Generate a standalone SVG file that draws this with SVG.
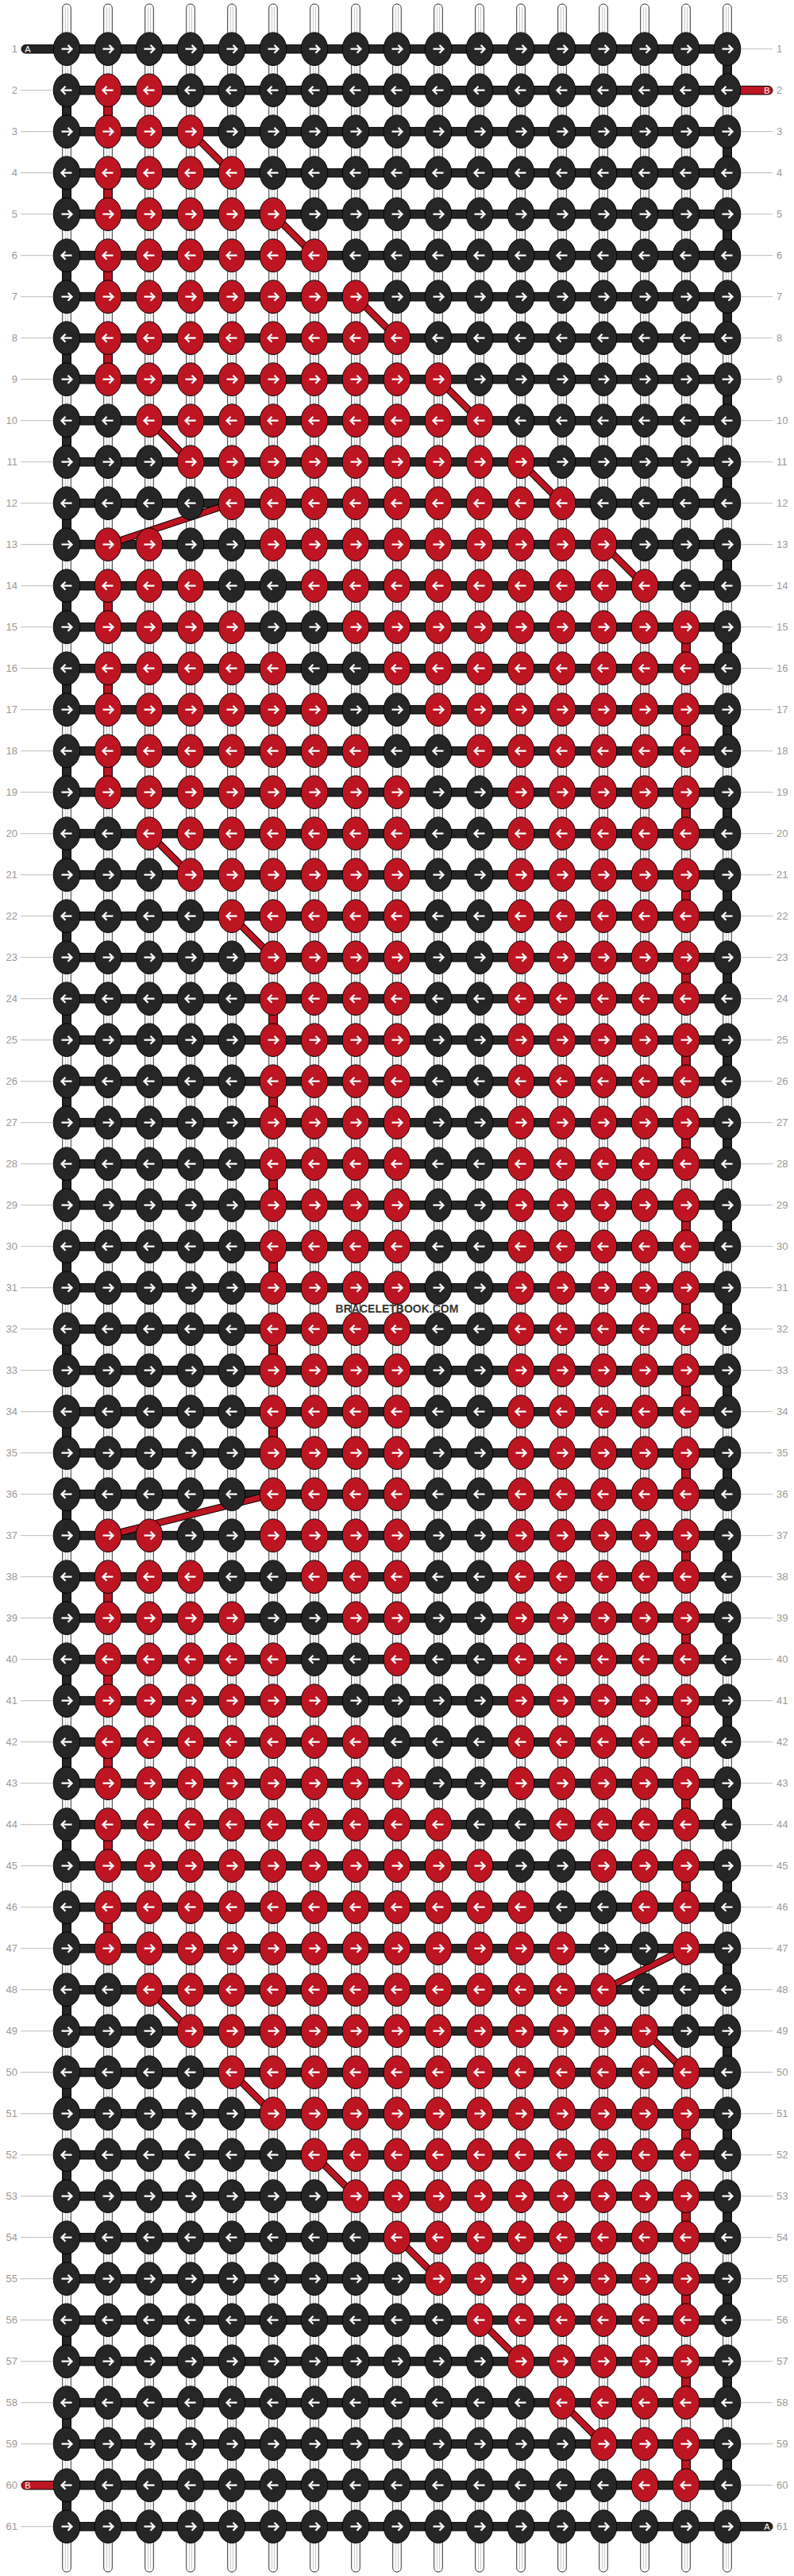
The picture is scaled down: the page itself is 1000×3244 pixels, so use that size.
<svg xmlns="http://www.w3.org/2000/svg" xmlns:xlink="http://www.w3.org/1999/xlink" width="1000" height="3244" viewBox="0 0 1000 3244">
<style>
.k{fill:#262626;stroke:#000;stroke-width:1}
.r{fill:#bd1522;stroke:#000;stroke-width:1}
.ar{fill:none;stroke:#fff;stroke-width:2.3}
.bar{fill:#262626;stroke:#000;stroke-width:1}
.tr{fill:#bd1522;stroke:#000;stroke-width:1}
.warp{fill:#fff;stroke:#333;stroke-width:1}
.wl{stroke:#c8c8c8;stroke-width:1}
.vk{fill:#262626;stroke:#000;stroke-width:1}
.vr{fill:#bd1522;stroke:#000;stroke-width:1}
.dgo{fill:none;stroke:#000;stroke-width:9}
.dgi{fill:none;stroke:#bd1522;stroke-width:7}
.lb{font-family:"Liberation Sans",Arial,sans-serif;font-size:13px;fill:#999}
.gl{stroke:#bbb;stroke-width:1}
.tl{font-family:"Liberation Sans",Arial,sans-serif;font-size:11px;fill:#fff;text-anchor:middle}
.wm{font-family:"Liberation Sans",Arial,sans-serif;font-size:14px;font-weight:bold;fill:#333;text-anchor:middle}
</style>
<defs>
<ellipse id="e" rx="16.8" ry="20.8"/>
<path id="aR" class="ar" d="M-6.5,0H5.5M1.5,-5L6.5,0L1.5,5"/>
<path id="aL" class="ar" d="M6.5,0H-5.5M-1.5,-5L-6.5,0L-1.5,5"/>
<g id="KR"><use href="#e" class="k"/><use href="#aR"/></g>
<g id="RR"><use href="#e" class="r"/><use href="#aR"/></g>
<g id="KL"><use href="#e" class="k"/><use href="#aL"/></g>
<g id="RL"><use href="#e" class="r"/><use href="#aL"/></g>
<rect id="vs" x="-5.3" y="0" width="10.6" height="52"/>
<rect id="bar" class="bar" x="84" y="-5.3" width="832" height="10.6"/>
<g id="wp"><rect class="warp" x="-5.3" y="5" width="10.6" height="3234" rx="5.3"/><path class="wl" d="M-1.5,9V3235M1.5,9V3235"/></g>
</defs>
<rect width="1000" height="3244" fill="#fff"/>
<g id="warps">
<use href="#wp" x="84"/><use href="#wp" x="136"/><use href="#wp" x="188"/><use href="#wp" x="240"/><use href="#wp" x="292"/><use href="#wp" x="344"/><use href="#wp" x="396"/><use href="#wp" x="448"/><use href="#wp" x="500"/><use href="#wp" x="552"/><use href="#wp" x="604"/><use href="#wp" x="656"/><use href="#wp" x="708"/><use href="#wp" x="760"/><use href="#wp" x="812"/><use href="#wp" x="864"/><use href="#wp" x="916"/>
</g>
<g id="connectors">
<g id="bars">
<use href="#bar" y="61.7"/><use href="#bar" y="113.7"/><use href="#bar" y="165.7"/><use href="#bar" y="217.7"/><use href="#bar" y="269.7"/><use href="#bar" y="321.7"/><use href="#bar" y="373.7"/><use href="#bar" y="425.7"/><use href="#bar" y="477.7"/><use href="#bar" y="529.7"/><use href="#bar" y="581.7"/><use href="#bar" y="633.7"/><use href="#bar" y="685.7"/><use href="#bar" y="737.7"/><use href="#bar" y="789.7"/><use href="#bar" y="841.7"/><use href="#bar" y="893.7"/><use href="#bar" y="945.7"/><use href="#bar" y="997.7"/><use href="#bar" y="1049.7"/><use href="#bar" y="1101.7"/><use href="#bar" y="1153.7"/><use href="#bar" y="1205.7"/><use href="#bar" y="1257.7"/><use href="#bar" y="1309.7"/><use href="#bar" y="1361.7"/><use href="#bar" y="1413.7"/><use href="#bar" y="1465.7"/><use href="#bar" y="1517.7"/><use href="#bar" y="1569.7"/><use href="#bar" y="1621.7"/><use href="#bar" y="1673.7"/><use href="#bar" y="1725.7"/><use href="#bar" y="1777.7"/><use href="#bar" y="1829.7"/><use href="#bar" y="1881.7"/><use href="#bar" y="1933.7"/><use href="#bar" y="1985.7"/><use href="#bar" y="2037.7"/><use href="#bar" y="2089.7"/><use href="#bar" y="2141.7"/><use href="#bar" y="2193.7"/><use href="#bar" y="2245.7"/><use href="#bar" y="2297.7"/><use href="#bar" y="2349.7"/><use href="#bar" y="2401.7"/><use href="#bar" y="2453.7"/><use href="#bar" y="2505.7"/><use href="#bar" y="2557.7"/><use href="#bar" y="2609.7"/><use href="#bar" y="2661.7"/><use href="#bar" y="2713.7"/><use href="#bar" y="2765.7"/><use href="#bar" y="2817.7"/><use href="#bar" y="2869.7"/><use href="#bar" y="2921.7"/><use href="#bar" y="2973.7"/><use href="#bar" y="3025.7"/><use href="#bar" y="3077.7"/><use href="#bar" y="3129.7"/><use href="#bar" y="3181.7"/>
</g>
<g id="tails">
<path class="bar" d="M84,56.4H32.3a5.3,5.3 0 0 0 0,10.6H84Z"/>
<path class="tr" d="M916,108.4H967.7a5.3,5.3 0 0 1 0,10.6H916Z"/>
<path class="tr" d="M84,3124.4H32.3a5.3,5.3 0 0 0 0,10.6H84Z"/>
<path class="bar" d="M916,3176.4H967.7a5.3,5.3 0 0 1 0,10.6H916Z"/>
</g>
<g id="turns-a" class="vk">
<use href="#vs" x="916" y="61.7"/><use href="#vs" x="916" y="165.7"/><use href="#vs" x="916" y="269.7"/><use href="#vs" x="916" y="373.7"/><use href="#vs" x="916" y="477.7"/><use href="#vs" x="916" y="581.7"/><use href="#vs" x="916" y="685.7"/><use href="#vs" x="916" y="789.7"/><use href="#vs" x="916" y="893.7"/><use href="#vs" x="916" y="997.7"/><use href="#vs" x="916" y="1101.7"/><use href="#vs" x="916" y="1205.7"/><use href="#vs" x="916" y="1309.7"/><use href="#vs" x="916" y="1413.7"/><use href="#vs" x="916" y="1517.7"/><use href="#vs" x="916" y="1621.7"/><use href="#vs" x="916" y="1725.7"/><use href="#vs" x="916" y="1829.7"/><use href="#vs" x="916" y="1933.7"/><use href="#vs" x="916" y="2037.7"/><use href="#vs" x="916" y="2141.7"/><use href="#vs" x="916" y="2245.7"/><use href="#vs" x="916" y="2349.7"/><use href="#vs" x="916" y="2453.7"/><use href="#vs" x="916" y="2557.7"/><use href="#vs" x="916" y="2661.7"/><use href="#vs" x="916" y="2765.7"/><use href="#vs" x="916" y="2869.7"/><use href="#vs" x="916" y="2973.7"/><use href="#vs" x="916" y="3077.7"/>
<use href="#vs" x="84" y="113.7"/><use href="#vs" x="84" y="217.7"/><use href="#vs" x="84" y="321.7"/><use href="#vs" x="84" y="425.7"/><use href="#vs" x="84" y="529.7"/><use href="#vs" x="84" y="633.7"/><use href="#vs" x="84" y="737.7"/><use href="#vs" x="84" y="841.7"/><use href="#vs" x="84" y="945.7"/><use href="#vs" x="84" y="1049.7"/><use href="#vs" x="84" y="1153.7"/><use href="#vs" x="84" y="1257.7"/><use href="#vs" x="84" y="1361.7"/><use href="#vs" x="84" y="1465.7"/><use href="#vs" x="84" y="1569.7"/><use href="#vs" x="84" y="1673.7"/><use href="#vs" x="84" y="1777.7"/><use href="#vs" x="84" y="1881.7"/><use href="#vs" x="84" y="1985.7"/><use href="#vs" x="84" y="2089.7"/><use href="#vs" x="84" y="2193.7"/><use href="#vs" x="84" y="2297.7"/><use href="#vs" x="84" y="2401.7"/><use href="#vs" x="84" y="2505.7"/><use href="#vs" x="84" y="2609.7"/><use href="#vs" x="84" y="2713.7"/><use href="#vs" x="84" y="2817.7"/><use href="#vs" x="84" y="2921.7"/><use href="#vs" x="84" y="3025.7"/><use href="#vs" x="84" y="3129.7"/>
</g>
<g id="turns-b" class="vr">
<use href="#vs" x="136" y="113.7"/><use href="#vs" x="136" y="217.7"/><use href="#vs" x="136" y="321.7"/><use href="#vs" x="136" y="425.7"/><use href="#vs" x="136" y="737.7"/><use href="#vs" x="136" y="841.7"/><use href="#vs" x="136" y="945.7"/><use href="#vs" x="136" y="1985.7"/><use href="#vs" x="136" y="2089.7"/><use href="#vs" x="136" y="2193.7"/><use href="#vs" x="136" y="2297.7"/><use href="#vs" x="136" y="2401.7"/>
<use href="#vs" x="864" y="789.7"/><use href="#vs" x="864" y="893.7"/><use href="#vs" x="864" y="997.7"/><use href="#vs" x="864" y="1101.7"/><use href="#vs" x="864" y="1205.7"/><use href="#vs" x="864" y="1309.7"/><use href="#vs" x="864" y="1413.7"/><use href="#vs" x="864" y="1517.7"/><use href="#vs" x="864" y="1621.7"/><use href="#vs" x="864" y="1725.7"/><use href="#vs" x="864" y="1829.7"/><use href="#vs" x="864" y="1933.7"/><use href="#vs" x="864" y="2037.7"/><use href="#vs" x="864" y="2141.7"/><use href="#vs" x="864" y="2245.7"/><use href="#vs" x="864" y="2349.7"/><use href="#vs" x="864" y="2661.7"/><use href="#vs" x="864" y="2765.7"/><use href="#vs" x="864" y="2869.7"/><use href="#vs" x="864" y="2973.7"/><use href="#vs" x="864" y="3077.7"/>
<use href="#vs" x="344" y="1257.7"/><use href="#vs" x="344" y="1361.7"/><use href="#vs" x="344" y="1465.7"/><use href="#vs" x="344" y="1569.7"/><use href="#vs" x="344" y="1673.7"/><use href="#vs" x="344" y="1777.7"/>
</g>
<g id="diagonals">
<path id="dgp" class="dgo" d="M240,165.7L292,217.7M344,269.7L396,321.7M448,373.7L500,425.7M552,477.7L604,529.7M188,529.7L240,581.7M656,581.7L708,633.7M292,633.7L136,685.7M760,685.7L812,737.7M188,1049.7L240,1101.7M292,1153.7L344,1205.7M344,1881.7L136,1933.7M864,2453.7L760,2505.7M188,2505.7L240,2557.7M812,2557.7L864,2609.7M292,2609.7L344,2661.7M396,2713.7L448,2765.7M500,2817.7L552,2869.7M604,2921.7L656,2973.7M708,3025.7L760,3077.7"/>
<path class="dgi" d="M240,165.7L292,217.7M344,269.7L396,321.7M448,373.7L500,425.7M552,477.7L604,529.7M188,529.7L240,581.7M656,581.7L708,633.7M292,633.7L136,685.7M760,685.7L812,737.7M188,1049.7L240,1101.7M292,1153.7L344,1205.7M344,1881.7L136,1933.7M864,2453.7L760,2505.7M188,2505.7L240,2557.7M812,2557.7L864,2609.7M292,2609.7L344,2661.7M396,2713.7L448,2765.7M500,2817.7L552,2869.7M604,2921.7L656,2973.7M708,3025.7L760,3077.7"/>
</g>
</g>
<g id="nodes">
<g id="row1" transform="translate(0,61.7)"><use id="n1_0" href="#KR" x="84"/><use id="n1_1" href="#KR" x="136"/><use id="n1_2" href="#KR" x="188"/><use id="n1_3" href="#KR" x="240"/><use id="n1_4" href="#KR" x="292"/><use id="n1_5" href="#KR" x="344"/><use id="n1_6" href="#KR" x="396"/><use id="n1_7" href="#KR" x="448"/><use id="n1_8" href="#KR" x="500"/><use id="n1_9" href="#KR" x="552"/><use id="n1_10" href="#KR" x="604"/><use id="n1_11" href="#KR" x="656"/><use id="n1_12" href="#KR" x="708"/><use id="n1_13" href="#KR" x="760"/><use id="n1_14" href="#KR" x="812"/><use id="n1_15" href="#KR" x="864"/><use id="n1_16" href="#KR" x="916"/></g>
<g id="row2" transform="translate(0,113.7)"><use id="n2_0" href="#KL" x="84"/><use id="n2_1" href="#RL" x="136"/><use id="n2_2" href="#RL" x="188"/><use id="n2_3" href="#KL" x="240"/><use id="n2_4" href="#KL" x="292"/><use id="n2_5" href="#KL" x="344"/><use id="n2_6" href="#KL" x="396"/><use id="n2_7" href="#KL" x="448"/><use id="n2_8" href="#KL" x="500"/><use id="n2_9" href="#KL" x="552"/><use id="n2_10" href="#KL" x="604"/><use id="n2_11" href="#KL" x="656"/><use id="n2_12" href="#KL" x="708"/><use id="n2_13" href="#KL" x="760"/><use id="n2_14" href="#KL" x="812"/><use id="n2_15" href="#KL" x="864"/><use id="n2_16" href="#KL" x="916"/></g>
<g id="row3" transform="translate(0,165.7)"><use id="n3_0" href="#KR" x="84"/><use id="n3_1" href="#RR" x="136"/><use id="n3_2" href="#RR" x="188"/><use id="n3_3" href="#RR" x="240"/><use id="n3_4" href="#KR" x="292"/><use id="n3_5" href="#KR" x="344"/><use id="n3_6" href="#KR" x="396"/><use id="n3_7" href="#KR" x="448"/><use id="n3_8" href="#KR" x="500"/><use id="n3_9" href="#KR" x="552"/><use id="n3_10" href="#KR" x="604"/><use id="n3_11" href="#KR" x="656"/><use id="n3_12" href="#KR" x="708"/><use id="n3_13" href="#KR" x="760"/><use id="n3_14" href="#KR" x="812"/><use id="n3_15" href="#KR" x="864"/><use id="n3_16" href="#KR" x="916"/></g>
<g id="row4" transform="translate(0,217.7)"><use id="n4_0" href="#KL" x="84"/><use id="n4_1" href="#RL" x="136"/><use id="n4_2" href="#RL" x="188"/><use id="n4_3" href="#RL" x="240"/><use id="n4_4" href="#RL" x="292"/><use id="n4_5" href="#KL" x="344"/><use id="n4_6" href="#KL" x="396"/><use id="n4_7" href="#KL" x="448"/><use id="n4_8" href="#KL" x="500"/><use id="n4_9" href="#KL" x="552"/><use id="n4_10" href="#KL" x="604"/><use id="n4_11" href="#KL" x="656"/><use id="n4_12" href="#KL" x="708"/><use id="n4_13" href="#KL" x="760"/><use id="n4_14" href="#KL" x="812"/><use id="n4_15" href="#KL" x="864"/><use id="n4_16" href="#KL" x="916"/></g>
<g id="row5" transform="translate(0,269.7)"><use id="n5_0" href="#KR" x="84"/><use id="n5_1" href="#RR" x="136"/><use id="n5_2" href="#RR" x="188"/><use id="n5_3" href="#RR" x="240"/><use id="n5_4" href="#RR" x="292"/><use id="n5_5" href="#RR" x="344"/><use id="n5_6" href="#KR" x="396"/><use id="n5_7" href="#KR" x="448"/><use id="n5_8" href="#KR" x="500"/><use id="n5_9" href="#KR" x="552"/><use id="n5_10" href="#KR" x="604"/><use id="n5_11" href="#KR" x="656"/><use id="n5_12" href="#KR" x="708"/><use id="n5_13" href="#KR" x="760"/><use id="n5_14" href="#KR" x="812"/><use id="n5_15" href="#KR" x="864"/><use id="n5_16" href="#KR" x="916"/></g>
<g id="row6" transform="translate(0,321.7)"><use id="n6_0" href="#KL" x="84"/><use id="n6_1" href="#RL" x="136"/><use id="n6_2" href="#RL" x="188"/><use id="n6_3" href="#RL" x="240"/><use id="n6_4" href="#RL" x="292"/><use id="n6_5" href="#RL" x="344"/><use id="n6_6" href="#RL" x="396"/><use id="n6_7" href="#KL" x="448"/><use id="n6_8" href="#KL" x="500"/><use id="n6_9" href="#KL" x="552"/><use id="n6_10" href="#KL" x="604"/><use id="n6_11" href="#KL" x="656"/><use id="n6_12" href="#KL" x="708"/><use id="n6_13" href="#KL" x="760"/><use id="n6_14" href="#KL" x="812"/><use id="n6_15" href="#KL" x="864"/><use id="n6_16" href="#KL" x="916"/></g>
<g id="row7" transform="translate(0,373.7)"><use id="n7_0" href="#KR" x="84"/><use id="n7_1" href="#RR" x="136"/><use id="n7_2" href="#RR" x="188"/><use id="n7_3" href="#RR" x="240"/><use id="n7_4" href="#RR" x="292"/><use id="n7_5" href="#RR" x="344"/><use id="n7_6" href="#RR" x="396"/><use id="n7_7" href="#RR" x="448"/><use id="n7_8" href="#KR" x="500"/><use id="n7_9" href="#KR" x="552"/><use id="n7_10" href="#KR" x="604"/><use id="n7_11" href="#KR" x="656"/><use id="n7_12" href="#KR" x="708"/><use id="n7_13" href="#KR" x="760"/><use id="n7_14" href="#KR" x="812"/><use id="n7_15" href="#KR" x="864"/><use id="n7_16" href="#KR" x="916"/></g>
<g id="row8" transform="translate(0,425.7)"><use id="n8_0" href="#KL" x="84"/><use id="n8_1" href="#RL" x="136"/><use id="n8_2" href="#RL" x="188"/><use id="n8_3" href="#RL" x="240"/><use id="n8_4" href="#RL" x="292"/><use id="n8_5" href="#RL" x="344"/><use id="n8_6" href="#RL" x="396"/><use id="n8_7" href="#RL" x="448"/><use id="n8_8" href="#RL" x="500"/><use id="n8_9" href="#KL" x="552"/><use id="n8_10" href="#KL" x="604"/><use id="n8_11" href="#KL" x="656"/><use id="n8_12" href="#KL" x="708"/><use id="n8_13" href="#KL" x="760"/><use id="n8_14" href="#KL" x="812"/><use id="n8_15" href="#KL" x="864"/><use id="n8_16" href="#KL" x="916"/></g>
<g id="row9" transform="translate(0,477.7)"><use id="n9_0" href="#KR" x="84"/><use id="n9_1" href="#RR" x="136"/><use id="n9_2" href="#RR" x="188"/><use id="n9_3" href="#RR" x="240"/><use id="n9_4" href="#RR" x="292"/><use id="n9_5" href="#RR" x="344"/><use id="n9_6" href="#RR" x="396"/><use id="n9_7" href="#RR" x="448"/><use id="n9_8" href="#RR" x="500"/><use id="n9_9" href="#RR" x="552"/><use id="n9_10" href="#KR" x="604"/><use id="n9_11" href="#KR" x="656"/><use id="n9_12" href="#KR" x="708"/><use id="n9_13" href="#KR" x="760"/><use id="n9_14" href="#KR" x="812"/><use id="n9_15" href="#KR" x="864"/><use id="n9_16" href="#KR" x="916"/></g>
<g id="row10" transform="translate(0,529.7)"><use id="n10_0" href="#KL" x="84"/><use id="n10_1" href="#KL" x="136"/><use id="n10_2" href="#RL" x="188"/><use id="n10_3" href="#RL" x="240"/><use id="n10_4" href="#RL" x="292"/><use id="n10_5" href="#RL" x="344"/><use id="n10_6" href="#RL" x="396"/><use id="n10_7" href="#RL" x="448"/><use id="n10_8" href="#RL" x="500"/><use id="n10_9" href="#RL" x="552"/><use id="n10_10" href="#RL" x="604"/><use id="n10_11" href="#KL" x="656"/><use id="n10_12" href="#KL" x="708"/><use id="n10_13" href="#KL" x="760"/><use id="n10_14" href="#KL" x="812"/><use id="n10_15" href="#KL" x="864"/><use id="n10_16" href="#KL" x="916"/></g>
<g id="row11" transform="translate(0,581.7)"><use id="n11_0" href="#KR" x="84"/><use id="n11_1" href="#KR" x="136"/><use id="n11_2" href="#KR" x="188"/><use id="n11_3" href="#RR" x="240"/><use id="n11_4" href="#RR" x="292"/><use id="n11_5" href="#RR" x="344"/><use id="n11_6" href="#RR" x="396"/><use id="n11_7" href="#RR" x="448"/><use id="n11_8" href="#RR" x="500"/><use id="n11_9" href="#RR" x="552"/><use id="n11_10" href="#RR" x="604"/><use id="n11_11" href="#RR" x="656"/><use id="n11_12" href="#KR" x="708"/><use id="n11_13" href="#KR" x="760"/><use id="n11_14" href="#KR" x="812"/><use id="n11_15" href="#KR" x="864"/><use id="n11_16" href="#KR" x="916"/></g>
<g id="row12" transform="translate(0,633.7)"><use id="n12_0" href="#KL" x="84"/><use id="n12_1" href="#KL" x="136"/><use id="n12_2" href="#KL" x="188"/><use id="n12_3" href="#KL" x="240"/><use id="n12_4" href="#RL" x="292"/><use id="n12_5" href="#RL" x="344"/><use id="n12_6" href="#RL" x="396"/><use id="n12_7" href="#RL" x="448"/><use id="n12_8" href="#RL" x="500"/><use id="n12_9" href="#RL" x="552"/><use id="n12_10" href="#RL" x="604"/><use id="n12_11" href="#RL" x="656"/><use id="n12_12" href="#RL" x="708"/><use id="n12_13" href="#KL" x="760"/><use id="n12_14" href="#KL" x="812"/><use id="n12_15" href="#KL" x="864"/><use id="n12_16" href="#KL" x="916"/></g>
<g id="row13" transform="translate(0,685.7)"><use id="n13_0" href="#KR" x="84"/><use id="n13_1" href="#RR" x="136"/><use id="n13_2" href="#RR" x="188"/><use id="n13_3" href="#KR" x="240"/><use id="n13_4" href="#KR" x="292"/><use id="n13_5" href="#RR" x="344"/><use id="n13_6" href="#RR" x="396"/><use id="n13_7" href="#RR" x="448"/><use id="n13_8" href="#RR" x="500"/><use id="n13_9" href="#RR" x="552"/><use id="n13_10" href="#RR" x="604"/><use id="n13_11" href="#RR" x="656"/><use id="n13_12" href="#RR" x="708"/><use id="n13_13" href="#RR" x="760"/><use id="n13_14" href="#KR" x="812"/><use id="n13_15" href="#KR" x="864"/><use id="n13_16" href="#KR" x="916"/></g>
<g id="row14" transform="translate(0,737.7)"><use id="n14_0" href="#KL" x="84"/><use id="n14_1" href="#RL" x="136"/><use id="n14_2" href="#RL" x="188"/><use id="n14_3" href="#RL" x="240"/><use id="n14_4" href="#KL" x="292"/><use id="n14_5" href="#KL" x="344"/><use id="n14_6" href="#RL" x="396"/><use id="n14_7" href="#RL" x="448"/><use id="n14_8" href="#RL" x="500"/><use id="n14_9" href="#RL" x="552"/><use id="n14_10" href="#RL" x="604"/><use id="n14_11" href="#RL" x="656"/><use id="n14_12" href="#RL" x="708"/><use id="n14_13" href="#RL" x="760"/><use id="n14_14" href="#RL" x="812"/><use id="n14_15" href="#KL" x="864"/><use id="n14_16" href="#KL" x="916"/></g>
<g id="row15" transform="translate(0,789.7)"><use id="n15_0" href="#KR" x="84"/><use id="n15_1" href="#RR" x="136"/><use id="n15_2" href="#RR" x="188"/><use id="n15_3" href="#RR" x="240"/><use id="n15_4" href="#RR" x="292"/><use id="n15_5" href="#KR" x="344"/><use id="n15_6" href="#KR" x="396"/><use id="n15_7" href="#RR" x="448"/><use id="n15_8" href="#RR" x="500"/><use id="n15_9" href="#RR" x="552"/><use id="n15_10" href="#RR" x="604"/><use id="n15_11" href="#RR" x="656"/><use id="n15_12" href="#RR" x="708"/><use id="n15_13" href="#RR" x="760"/><use id="n15_14" href="#RR" x="812"/><use id="n15_15" href="#RR" x="864"/><use id="n15_16" href="#KR" x="916"/></g>
<g id="row16" transform="translate(0,841.7)"><use id="n16_0" href="#KL" x="84"/><use id="n16_1" href="#RL" x="136"/><use id="n16_2" href="#RL" x="188"/><use id="n16_3" href="#RL" x="240"/><use id="n16_4" href="#RL" x="292"/><use id="n16_5" href="#RL" x="344"/><use id="n16_6" href="#KL" x="396"/><use id="n16_7" href="#KL" x="448"/><use id="n16_8" href="#RL" x="500"/><use id="n16_9" href="#RL" x="552"/><use id="n16_10" href="#RL" x="604"/><use id="n16_11" href="#RL" x="656"/><use id="n16_12" href="#RL" x="708"/><use id="n16_13" href="#RL" x="760"/><use id="n16_14" href="#RL" x="812"/><use id="n16_15" href="#RL" x="864"/><use id="n16_16" href="#KL" x="916"/></g>
<g id="row17" transform="translate(0,893.7)"><use id="n17_0" href="#KR" x="84"/><use id="n17_1" href="#RR" x="136"/><use id="n17_2" href="#RR" x="188"/><use id="n17_3" href="#RR" x="240"/><use id="n17_4" href="#RR" x="292"/><use id="n17_5" href="#RR" x="344"/><use id="n17_6" href="#RR" x="396"/><use id="n17_7" href="#KR" x="448"/><use id="n17_8" href="#KR" x="500"/><use id="n17_9" href="#RR" x="552"/><use id="n17_10" href="#RR" x="604"/><use id="n17_11" href="#RR" x="656"/><use id="n17_12" href="#RR" x="708"/><use id="n17_13" href="#RR" x="760"/><use id="n17_14" href="#RR" x="812"/><use id="n17_15" href="#RR" x="864"/><use id="n17_16" href="#KR" x="916"/></g>
<g id="row18" transform="translate(0,945.7)"><use id="n18_0" href="#KL" x="84"/><use id="n18_1" href="#RL" x="136"/><use id="n18_2" href="#RL" x="188"/><use id="n18_3" href="#RL" x="240"/><use id="n18_4" href="#RL" x="292"/><use id="n18_5" href="#RL" x="344"/><use id="n18_6" href="#RL" x="396"/><use id="n18_7" href="#RL" x="448"/><use id="n18_8" href="#KL" x="500"/><use id="n18_9" href="#KL" x="552"/><use id="n18_10" href="#RL" x="604"/><use id="n18_11" href="#RL" x="656"/><use id="n18_12" href="#RL" x="708"/><use id="n18_13" href="#RL" x="760"/><use id="n18_14" href="#RL" x="812"/><use id="n18_15" href="#RL" x="864"/><use id="n18_16" href="#KL" x="916"/></g>
<g id="row19" transform="translate(0,997.7)"><use id="n19_0" href="#KR" x="84"/><use id="n19_1" href="#RR" x="136"/><use id="n19_2" href="#RR" x="188"/><use id="n19_3" href="#RR" x="240"/><use id="n19_4" href="#RR" x="292"/><use id="n19_5" href="#RR" x="344"/><use id="n19_6" href="#RR" x="396"/><use id="n19_7" href="#RR" x="448"/><use id="n19_8" href="#RR" x="500"/><use id="n19_9" href="#KR" x="552"/><use id="n19_10" href="#KR" x="604"/><use id="n19_11" href="#RR" x="656"/><use id="n19_12" href="#RR" x="708"/><use id="n19_13" href="#RR" x="760"/><use id="n19_14" href="#RR" x="812"/><use id="n19_15" href="#RR" x="864"/><use id="n19_16" href="#KR" x="916"/></g>
<g id="row20" transform="translate(0,1049.7)"><use id="n20_0" href="#KL" x="84"/><use id="n20_1" href="#KL" x="136"/><use id="n20_2" href="#RL" x="188"/><use id="n20_3" href="#RL" x="240"/><use id="n20_4" href="#RL" x="292"/><use id="n20_5" href="#RL" x="344"/><use id="n20_6" href="#RL" x="396"/><use id="n20_7" href="#RL" x="448"/><use id="n20_8" href="#RL" x="500"/><use id="n20_9" href="#KL" x="552"/><use id="n20_10" href="#KL" x="604"/><use id="n20_11" href="#RL" x="656"/><use id="n20_12" href="#RL" x="708"/><use id="n20_13" href="#RL" x="760"/><use id="n20_14" href="#RL" x="812"/><use id="n20_15" href="#RL" x="864"/><use id="n20_16" href="#KL" x="916"/></g>
<g id="row21" transform="translate(0,1101.7)"><use id="n21_0" href="#KR" x="84"/><use id="n21_1" href="#KR" x="136"/><use id="n21_2" href="#KR" x="188"/><use id="n21_3" href="#RR" x="240"/><use id="n21_4" href="#RR" x="292"/><use id="n21_5" href="#RR" x="344"/><use id="n21_6" href="#RR" x="396"/><use id="n21_7" href="#RR" x="448"/><use id="n21_8" href="#RR" x="500"/><use id="n21_9" href="#KR" x="552"/><use id="n21_10" href="#KR" x="604"/><use id="n21_11" href="#RR" x="656"/><use id="n21_12" href="#RR" x="708"/><use id="n21_13" href="#RR" x="760"/><use id="n21_14" href="#RR" x="812"/><use id="n21_15" href="#RR" x="864"/><use id="n21_16" href="#KR" x="916"/></g>
<g id="row22" transform="translate(0,1153.7)"><use id="n22_0" href="#KL" x="84"/><use id="n22_1" href="#KL" x="136"/><use id="n22_2" href="#KL" x="188"/><use id="n22_3" href="#KL" x="240"/><use id="n22_4" href="#RL" x="292"/><use id="n22_5" href="#RL" x="344"/><use id="n22_6" href="#RL" x="396"/><use id="n22_7" href="#RL" x="448"/><use id="n22_8" href="#RL" x="500"/><use id="n22_9" href="#KL" x="552"/><use id="n22_10" href="#KL" x="604"/><use id="n22_11" href="#RL" x="656"/><use id="n22_12" href="#RL" x="708"/><use id="n22_13" href="#RL" x="760"/><use id="n22_14" href="#RL" x="812"/><use id="n22_15" href="#RL" x="864"/><use id="n22_16" href="#KL" x="916"/></g>
<g id="row23" transform="translate(0,1205.7)"><use id="n23_0" href="#KR" x="84"/><use id="n23_1" href="#KR" x="136"/><use id="n23_2" href="#KR" x="188"/><use id="n23_3" href="#KR" x="240"/><use id="n23_4" href="#KR" x="292"/><use id="n23_5" href="#RR" x="344"/><use id="n23_6" href="#RR" x="396"/><use id="n23_7" href="#RR" x="448"/><use id="n23_8" href="#RR" x="500"/><use id="n23_9" href="#KR" x="552"/><use id="n23_10" href="#KR" x="604"/><use id="n23_11" href="#RR" x="656"/><use id="n23_12" href="#RR" x="708"/><use id="n23_13" href="#RR" x="760"/><use id="n23_14" href="#RR" x="812"/><use id="n23_15" href="#RR" x="864"/><use id="n23_16" href="#KR" x="916"/></g>
<g id="row24" transform="translate(0,1257.7)"><use id="n24_0" href="#KL" x="84"/><use id="n24_1" href="#KL" x="136"/><use id="n24_2" href="#KL" x="188"/><use id="n24_3" href="#KL" x="240"/><use id="n24_4" href="#KL" x="292"/><use id="n24_5" href="#RL" x="344"/><use id="n24_6" href="#RL" x="396"/><use id="n24_7" href="#RL" x="448"/><use id="n24_8" href="#RL" x="500"/><use id="n24_9" href="#KL" x="552"/><use id="n24_10" href="#KL" x="604"/><use id="n24_11" href="#RL" x="656"/><use id="n24_12" href="#RL" x="708"/><use id="n24_13" href="#RL" x="760"/><use id="n24_14" href="#RL" x="812"/><use id="n24_15" href="#RL" x="864"/><use id="n24_16" href="#KL" x="916"/></g>
<g id="row25" transform="translate(0,1309.7)"><use id="n25_0" href="#KR" x="84"/><use id="n25_1" href="#KR" x="136"/><use id="n25_2" href="#KR" x="188"/><use id="n25_3" href="#KR" x="240"/><use id="n25_4" href="#KR" x="292"/><use id="n25_5" href="#RR" x="344"/><use id="n25_6" href="#RR" x="396"/><use id="n25_7" href="#RR" x="448"/><use id="n25_8" href="#RR" x="500"/><use id="n25_9" href="#KR" x="552"/><use id="n25_10" href="#KR" x="604"/><use id="n25_11" href="#RR" x="656"/><use id="n25_12" href="#RR" x="708"/><use id="n25_13" href="#RR" x="760"/><use id="n25_14" href="#RR" x="812"/><use id="n25_15" href="#RR" x="864"/><use id="n25_16" href="#KR" x="916"/></g>
<g id="row26" transform="translate(0,1361.7)"><use id="n26_0" href="#KL" x="84"/><use id="n26_1" href="#KL" x="136"/><use id="n26_2" href="#KL" x="188"/><use id="n26_3" href="#KL" x="240"/><use id="n26_4" href="#KL" x="292"/><use id="n26_5" href="#RL" x="344"/><use id="n26_6" href="#RL" x="396"/><use id="n26_7" href="#RL" x="448"/><use id="n26_8" href="#RL" x="500"/><use id="n26_9" href="#KL" x="552"/><use id="n26_10" href="#KL" x="604"/><use id="n26_11" href="#RL" x="656"/><use id="n26_12" href="#RL" x="708"/><use id="n26_13" href="#RL" x="760"/><use id="n26_14" href="#RL" x="812"/><use id="n26_15" href="#RL" x="864"/><use id="n26_16" href="#KL" x="916"/></g>
<g id="row27" transform="translate(0,1413.7)"><use id="n27_0" href="#KR" x="84"/><use id="n27_1" href="#KR" x="136"/><use id="n27_2" href="#KR" x="188"/><use id="n27_3" href="#KR" x="240"/><use id="n27_4" href="#KR" x="292"/><use id="n27_5" href="#RR" x="344"/><use id="n27_6" href="#RR" x="396"/><use id="n27_7" href="#RR" x="448"/><use id="n27_8" href="#RR" x="500"/><use id="n27_9" href="#KR" x="552"/><use id="n27_10" href="#KR" x="604"/><use id="n27_11" href="#RR" x="656"/><use id="n27_12" href="#RR" x="708"/><use id="n27_13" href="#RR" x="760"/><use id="n27_14" href="#RR" x="812"/><use id="n27_15" href="#RR" x="864"/><use id="n27_16" href="#KR" x="916"/></g>
<g id="row28" transform="translate(0,1465.7)"><use id="n28_0" href="#KL" x="84"/><use id="n28_1" href="#KL" x="136"/><use id="n28_2" href="#KL" x="188"/><use id="n28_3" href="#KL" x="240"/><use id="n28_4" href="#KL" x="292"/><use id="n28_5" href="#RL" x="344"/><use id="n28_6" href="#RL" x="396"/><use id="n28_7" href="#RL" x="448"/><use id="n28_8" href="#RL" x="500"/><use id="n28_9" href="#KL" x="552"/><use id="n28_10" href="#KL" x="604"/><use id="n28_11" href="#RL" x="656"/><use id="n28_12" href="#RL" x="708"/><use id="n28_13" href="#RL" x="760"/><use id="n28_14" href="#RL" x="812"/><use id="n28_15" href="#RL" x="864"/><use id="n28_16" href="#KL" x="916"/></g>
<g id="row29" transform="translate(0,1517.7)"><use id="n29_0" href="#KR" x="84"/><use id="n29_1" href="#KR" x="136"/><use id="n29_2" href="#KR" x="188"/><use id="n29_3" href="#KR" x="240"/><use id="n29_4" href="#KR" x="292"/><use id="n29_5" href="#RR" x="344"/><use id="n29_6" href="#RR" x="396"/><use id="n29_7" href="#RR" x="448"/><use id="n29_8" href="#RR" x="500"/><use id="n29_9" href="#KR" x="552"/><use id="n29_10" href="#KR" x="604"/><use id="n29_11" href="#RR" x="656"/><use id="n29_12" href="#RR" x="708"/><use id="n29_13" href="#RR" x="760"/><use id="n29_14" href="#RR" x="812"/><use id="n29_15" href="#RR" x="864"/><use id="n29_16" href="#KR" x="916"/></g>
<g id="row30" transform="translate(0,1569.7)"><use id="n30_0" href="#KL" x="84"/><use id="n30_1" href="#KL" x="136"/><use id="n30_2" href="#KL" x="188"/><use id="n30_3" href="#KL" x="240"/><use id="n30_4" href="#KL" x="292"/><use id="n30_5" href="#RL" x="344"/><use id="n30_6" href="#RL" x="396"/><use id="n30_7" href="#RL" x="448"/><use id="n30_8" href="#RL" x="500"/><use id="n30_9" href="#KL" x="552"/><use id="n30_10" href="#KL" x="604"/><use id="n30_11" href="#RL" x="656"/><use id="n30_12" href="#RL" x="708"/><use id="n30_13" href="#RL" x="760"/><use id="n30_14" href="#RL" x="812"/><use id="n30_15" href="#RL" x="864"/><use id="n30_16" href="#KL" x="916"/></g>
<g id="row31" transform="translate(0,1621.7)"><use id="n31_0" href="#KR" x="84"/><use id="n31_1" href="#KR" x="136"/><use id="n31_2" href="#KR" x="188"/><use id="n31_3" href="#KR" x="240"/><use id="n31_4" href="#KR" x="292"/><use id="n31_5" href="#RR" x="344"/><use id="n31_6" href="#RR" x="396"/><use id="n31_7" href="#RR" x="448"/><use id="n31_8" href="#RR" x="500"/><use id="n31_9" href="#KR" x="552"/><use id="n31_10" href="#KR" x="604"/><use id="n31_11" href="#RR" x="656"/><use id="n31_12" href="#RR" x="708"/><use id="n31_13" href="#RR" x="760"/><use id="n31_14" href="#RR" x="812"/><use id="n31_15" href="#RR" x="864"/><use id="n31_16" href="#KR" x="916"/></g>
<g id="row32" transform="translate(0,1673.7)"><use id="n32_0" href="#KL" x="84"/><use id="n32_1" href="#KL" x="136"/><use id="n32_2" href="#KL" x="188"/><use id="n32_3" href="#KL" x="240"/><use id="n32_4" href="#KL" x="292"/><use id="n32_5" href="#RL" x="344"/><use id="n32_6" href="#RL" x="396"/><use id="n32_7" href="#RL" x="448"/><use id="n32_8" href="#RL" x="500"/><use id="n32_9" href="#KL" x="552"/><use id="n32_10" href="#KL" x="604"/><use id="n32_11" href="#RL" x="656"/><use id="n32_12" href="#RL" x="708"/><use id="n32_13" href="#RL" x="760"/><use id="n32_14" href="#RL" x="812"/><use id="n32_15" href="#RL" x="864"/><use id="n32_16" href="#KL" x="916"/></g>
<g id="row33" transform="translate(0,1725.7)"><use id="n33_0" href="#KR" x="84"/><use id="n33_1" href="#KR" x="136"/><use id="n33_2" href="#KR" x="188"/><use id="n33_3" href="#KR" x="240"/><use id="n33_4" href="#KR" x="292"/><use id="n33_5" href="#RR" x="344"/><use id="n33_6" href="#RR" x="396"/><use id="n33_7" href="#RR" x="448"/><use id="n33_8" href="#RR" x="500"/><use id="n33_9" href="#KR" x="552"/><use id="n33_10" href="#KR" x="604"/><use id="n33_11" href="#RR" x="656"/><use id="n33_12" href="#RR" x="708"/><use id="n33_13" href="#RR" x="760"/><use id="n33_14" href="#RR" x="812"/><use id="n33_15" href="#RR" x="864"/><use id="n33_16" href="#KR" x="916"/></g>
<g id="row34" transform="translate(0,1777.7)"><use id="n34_0" href="#KL" x="84"/><use id="n34_1" href="#KL" x="136"/><use id="n34_2" href="#KL" x="188"/><use id="n34_3" href="#KL" x="240"/><use id="n34_4" href="#KL" x="292"/><use id="n34_5" href="#RL" x="344"/><use id="n34_6" href="#RL" x="396"/><use id="n34_7" href="#RL" x="448"/><use id="n34_8" href="#RL" x="500"/><use id="n34_9" href="#KL" x="552"/><use id="n34_10" href="#KL" x="604"/><use id="n34_11" href="#RL" x="656"/><use id="n34_12" href="#RL" x="708"/><use id="n34_13" href="#RL" x="760"/><use id="n34_14" href="#RL" x="812"/><use id="n34_15" href="#RL" x="864"/><use id="n34_16" href="#KL" x="916"/></g>
<g id="row35" transform="translate(0,1829.7)"><use id="n35_0" href="#KR" x="84"/><use id="n35_1" href="#KR" x="136"/><use id="n35_2" href="#KR" x="188"/><use id="n35_3" href="#KR" x="240"/><use id="n35_4" href="#KR" x="292"/><use id="n35_5" href="#RR" x="344"/><use id="n35_6" href="#RR" x="396"/><use id="n35_7" href="#RR" x="448"/><use id="n35_8" href="#RR" x="500"/><use id="n35_9" href="#KR" x="552"/><use id="n35_10" href="#KR" x="604"/><use id="n35_11" href="#RR" x="656"/><use id="n35_12" href="#RR" x="708"/><use id="n35_13" href="#RR" x="760"/><use id="n35_14" href="#RR" x="812"/><use id="n35_15" href="#RR" x="864"/><use id="n35_16" href="#KR" x="916"/></g>
<g id="row36" transform="translate(0,1881.7)"><use id="n36_0" href="#KL" x="84"/><use id="n36_1" href="#KL" x="136"/><use id="n36_2" href="#KL" x="188"/><use id="n36_3" href="#KL" x="240"/><use id="n36_4" href="#KL" x="292"/><use id="n36_5" href="#RL" x="344"/><use id="n36_6" href="#RL" x="396"/><use id="n36_7" href="#RL" x="448"/><use id="n36_8" href="#RL" x="500"/><use id="n36_9" href="#KL" x="552"/><use id="n36_10" href="#KL" x="604"/><use id="n36_11" href="#RL" x="656"/><use id="n36_12" href="#RL" x="708"/><use id="n36_13" href="#RL" x="760"/><use id="n36_14" href="#RL" x="812"/><use id="n36_15" href="#RL" x="864"/><use id="n36_16" href="#KL" x="916"/></g>
<g id="row37" transform="translate(0,1933.7)"><use id="n37_0" href="#KR" x="84"/><use id="n37_1" href="#RR" x="136"/><use id="n37_2" href="#RR" x="188"/><use id="n37_3" href="#KR" x="240"/><use id="n37_4" href="#KR" x="292"/><use id="n37_5" href="#RR" x="344"/><use id="n37_6" href="#RR" x="396"/><use id="n37_7" href="#RR" x="448"/><use id="n37_8" href="#RR" x="500"/><use id="n37_9" href="#KR" x="552"/><use id="n37_10" href="#KR" x="604"/><use id="n37_11" href="#RR" x="656"/><use id="n37_12" href="#RR" x="708"/><use id="n37_13" href="#RR" x="760"/><use id="n37_14" href="#RR" x="812"/><use id="n37_15" href="#RR" x="864"/><use id="n37_16" href="#KR" x="916"/></g>
<g id="row38" transform="translate(0,1985.7)"><use id="n38_0" href="#KL" x="84"/><use id="n38_1" href="#RL" x="136"/><use id="n38_2" href="#RL" x="188"/><use id="n38_3" href="#RL" x="240"/><use id="n38_4" href="#KL" x="292"/><use id="n38_5" href="#KL" x="344"/><use id="n38_6" href="#RL" x="396"/><use id="n38_7" href="#RL" x="448"/><use id="n38_8" href="#RL" x="500"/><use id="n38_9" href="#KL" x="552"/><use id="n38_10" href="#KL" x="604"/><use id="n38_11" href="#RL" x="656"/><use id="n38_12" href="#RL" x="708"/><use id="n38_13" href="#RL" x="760"/><use id="n38_14" href="#RL" x="812"/><use id="n38_15" href="#RL" x="864"/><use id="n38_16" href="#KL" x="916"/></g>
<g id="row39" transform="translate(0,2037.7)"><use id="n39_0" href="#KR" x="84"/><use id="n39_1" href="#RR" x="136"/><use id="n39_2" href="#RR" x="188"/><use id="n39_3" href="#RR" x="240"/><use id="n39_4" href="#RR" x="292"/><use id="n39_5" href="#KR" x="344"/><use id="n39_6" href="#KR" x="396"/><use id="n39_7" href="#RR" x="448"/><use id="n39_8" href="#RR" x="500"/><use id="n39_9" href="#KR" x="552"/><use id="n39_10" href="#KR" x="604"/><use id="n39_11" href="#RR" x="656"/><use id="n39_12" href="#RR" x="708"/><use id="n39_13" href="#RR" x="760"/><use id="n39_14" href="#RR" x="812"/><use id="n39_15" href="#RR" x="864"/><use id="n39_16" href="#KR" x="916"/></g>
<g id="row40" transform="translate(0,2089.7)"><use id="n40_0" href="#KL" x="84"/><use id="n40_1" href="#RL" x="136"/><use id="n40_2" href="#RL" x="188"/><use id="n40_3" href="#RL" x="240"/><use id="n40_4" href="#RL" x="292"/><use id="n40_5" href="#RL" x="344"/><use id="n40_6" href="#KL" x="396"/><use id="n40_7" href="#KL" x="448"/><use id="n40_8" href="#RL" x="500"/><use id="n40_9" href="#KL" x="552"/><use id="n40_10" href="#KL" x="604"/><use id="n40_11" href="#RL" x="656"/><use id="n40_12" href="#RL" x="708"/><use id="n40_13" href="#RL" x="760"/><use id="n40_14" href="#RL" x="812"/><use id="n40_15" href="#RL" x="864"/><use id="n40_16" href="#KL" x="916"/></g>
<g id="row41" transform="translate(0,2141.7)"><use id="n41_0" href="#KR" x="84"/><use id="n41_1" href="#RR" x="136"/><use id="n41_2" href="#RR" x="188"/><use id="n41_3" href="#RR" x="240"/><use id="n41_4" href="#RR" x="292"/><use id="n41_5" href="#RR" x="344"/><use id="n41_6" href="#RR" x="396"/><use id="n41_7" href="#KR" x="448"/><use id="n41_8" href="#KR" x="500"/><use id="n41_9" href="#KR" x="552"/><use id="n41_10" href="#KR" x="604"/><use id="n41_11" href="#RR" x="656"/><use id="n41_12" href="#RR" x="708"/><use id="n41_13" href="#RR" x="760"/><use id="n41_14" href="#RR" x="812"/><use id="n41_15" href="#RR" x="864"/><use id="n41_16" href="#KR" x="916"/></g>
<g id="row42" transform="translate(0,2193.7)"><use id="n42_0" href="#KL" x="84"/><use id="n42_1" href="#RL" x="136"/><use id="n42_2" href="#RL" x="188"/><use id="n42_3" href="#RL" x="240"/><use id="n42_4" href="#RL" x="292"/><use id="n42_5" href="#RL" x="344"/><use id="n42_6" href="#RL" x="396"/><use id="n42_7" href="#RL" x="448"/><use id="n42_8" href="#KL" x="500"/><use id="n42_9" href="#KL" x="552"/><use id="n42_10" href="#KL" x="604"/><use id="n42_11" href="#RL" x="656"/><use id="n42_12" href="#RL" x="708"/><use id="n42_13" href="#RL" x="760"/><use id="n42_14" href="#RL" x="812"/><use id="n42_15" href="#RL" x="864"/><use id="n42_16" href="#KL" x="916"/></g>
<g id="row43" transform="translate(0,2245.7)"><use id="n43_0" href="#KR" x="84"/><use id="n43_1" href="#RR" x="136"/><use id="n43_2" href="#RR" x="188"/><use id="n43_3" href="#RR" x="240"/><use id="n43_4" href="#RR" x="292"/><use id="n43_5" href="#RR" x="344"/><use id="n43_6" href="#RR" x="396"/><use id="n43_7" href="#RR" x="448"/><use id="n43_8" href="#RR" x="500"/><use id="n43_9" href="#KR" x="552"/><use id="n43_10" href="#KR" x="604"/><use id="n43_11" href="#RR" x="656"/><use id="n43_12" href="#RR" x="708"/><use id="n43_13" href="#RR" x="760"/><use id="n43_14" href="#RR" x="812"/><use id="n43_15" href="#RR" x="864"/><use id="n43_16" href="#KR" x="916"/></g>
<g id="row44" transform="translate(0,2297.7)"><use id="n44_0" href="#KL" x="84"/><use id="n44_1" href="#RL" x="136"/><use id="n44_2" href="#RL" x="188"/><use id="n44_3" href="#RL" x="240"/><use id="n44_4" href="#RL" x="292"/><use id="n44_5" href="#RL" x="344"/><use id="n44_6" href="#RL" x="396"/><use id="n44_7" href="#RL" x="448"/><use id="n44_8" href="#RL" x="500"/><use id="n44_9" href="#RL" x="552"/><use id="n44_10" href="#KL" x="604"/><use id="n44_11" href="#KL" x="656"/><use id="n44_12" href="#RL" x="708"/><use id="n44_13" href="#RL" x="760"/><use id="n44_14" href="#RL" x="812"/><use id="n44_15" href="#RL" x="864"/><use id="n44_16" href="#KL" x="916"/></g>
<g id="row45" transform="translate(0,2349.7)"><use id="n45_0" href="#KR" x="84"/><use id="n45_1" href="#RR" x="136"/><use id="n45_2" href="#RR" x="188"/><use id="n45_3" href="#RR" x="240"/><use id="n45_4" href="#RR" x="292"/><use id="n45_5" href="#RR" x="344"/><use id="n45_6" href="#RR" x="396"/><use id="n45_7" href="#RR" x="448"/><use id="n45_8" href="#RR" x="500"/><use id="n45_9" href="#RR" x="552"/><use id="n45_10" href="#RR" x="604"/><use id="n45_11" href="#KR" x="656"/><use id="n45_12" href="#KR" x="708"/><use id="n45_13" href="#RR" x="760"/><use id="n45_14" href="#RR" x="812"/><use id="n45_15" href="#RR" x="864"/><use id="n45_16" href="#KR" x="916"/></g>
<g id="row46" transform="translate(0,2401.7)"><use id="n46_0" href="#KL" x="84"/><use id="n46_1" href="#RL" x="136"/><use id="n46_2" href="#RL" x="188"/><use id="n46_3" href="#RL" x="240"/><use id="n46_4" href="#RL" x="292"/><use id="n46_5" href="#RL" x="344"/><use id="n46_6" href="#RL" x="396"/><use id="n46_7" href="#RL" x="448"/><use id="n46_8" href="#RL" x="500"/><use id="n46_9" href="#RL" x="552"/><use id="n46_10" href="#RL" x="604"/><use id="n46_11" href="#RL" x="656"/><use id="n46_12" href="#KL" x="708"/><use id="n46_13" href="#KL" x="760"/><use id="n46_14" href="#RL" x="812"/><use id="n46_15" href="#RL" x="864"/><use id="n46_16" href="#KL" x="916"/></g>
<g id="row47" transform="translate(0,2453.7)"><use id="n47_0" href="#KR" x="84"/><use id="n47_1" href="#RR" x="136"/><use id="n47_2" href="#RR" x="188"/><use id="n47_3" href="#RR" x="240"/><use id="n47_4" href="#RR" x="292"/><use id="n47_5" href="#RR" x="344"/><use id="n47_6" href="#RR" x="396"/><use id="n47_7" href="#RR" x="448"/><use id="n47_8" href="#RR" x="500"/><use id="n47_9" href="#RR" x="552"/><use id="n47_10" href="#RR" x="604"/><use id="n47_11" href="#RR" x="656"/><use id="n47_12" href="#RR" x="708"/><use id="n47_13" href="#KR" x="760"/><use id="n47_14" href="#KR" x="812"/><use id="n47_15" href="#RR" x="864"/><use id="n47_16" href="#KR" x="916"/></g>
<g id="row48" transform="translate(0,2505.7)"><use id="n48_0" href="#KL" x="84"/><use id="n48_1" href="#KL" x="136"/><use id="n48_2" href="#RL" x="188"/><use id="n48_3" href="#RL" x="240"/><use id="n48_4" href="#RL" x="292"/><use id="n48_5" href="#RL" x="344"/><use id="n48_6" href="#RL" x="396"/><use id="n48_7" href="#RL" x="448"/><use id="n48_8" href="#RL" x="500"/><use id="n48_9" href="#RL" x="552"/><use id="n48_10" href="#RL" x="604"/><use id="n48_11" href="#RL" x="656"/><use id="n48_12" href="#RL" x="708"/><use id="n48_13" href="#RL" x="760"/><use id="n48_14" href="#KL" x="812"/><use id="n48_15" href="#KL" x="864"/><use id="n48_16" href="#KL" x="916"/></g>
<g id="row49" transform="translate(0,2557.7)"><use id="n49_0" href="#KR" x="84"/><use id="n49_1" href="#KR" x="136"/><use id="n49_2" href="#KR" x="188"/><use id="n49_3" href="#RR" x="240"/><use id="n49_4" href="#RR" x="292"/><use id="n49_5" href="#RR" x="344"/><use id="n49_6" href="#RR" x="396"/><use id="n49_7" href="#RR" x="448"/><use id="n49_8" href="#RR" x="500"/><use id="n49_9" href="#RR" x="552"/><use id="n49_10" href="#RR" x="604"/><use id="n49_11" href="#RR" x="656"/><use id="n49_12" href="#RR" x="708"/><use id="n49_13" href="#RR" x="760"/><use id="n49_14" href="#RR" x="812"/><use id="n49_15" href="#KR" x="864"/><use id="n49_16" href="#KR" x="916"/></g>
<g id="row50" transform="translate(0,2609.7)"><use id="n50_0" href="#KL" x="84"/><use id="n50_1" href="#KL" x="136"/><use id="n50_2" href="#KL" x="188"/><use id="n50_3" href="#KL" x="240"/><use id="n50_4" href="#RL" x="292"/><use id="n50_5" href="#RL" x="344"/><use id="n50_6" href="#RL" x="396"/><use id="n50_7" href="#RL" x="448"/><use id="n50_8" href="#RL" x="500"/><use id="n50_9" href="#RL" x="552"/><use id="n50_10" href="#RL" x="604"/><use id="n50_11" href="#RL" x="656"/><use id="n50_12" href="#RL" x="708"/><use id="n50_13" href="#RL" x="760"/><use id="n50_14" href="#RL" x="812"/><use id="n50_15" href="#RL" x="864"/><use id="n50_16" href="#KL" x="916"/></g>
<g id="row51" transform="translate(0,2661.7)"><use id="n51_0" href="#KR" x="84"/><use id="n51_1" href="#KR" x="136"/><use id="n51_2" href="#KR" x="188"/><use id="n51_3" href="#KR" x="240"/><use id="n51_4" href="#KR" x="292"/><use id="n51_5" href="#RR" x="344"/><use id="n51_6" href="#RR" x="396"/><use id="n51_7" href="#RR" x="448"/><use id="n51_8" href="#RR" x="500"/><use id="n51_9" href="#RR" x="552"/><use id="n51_10" href="#RR" x="604"/><use id="n51_11" href="#RR" x="656"/><use id="n51_12" href="#RR" x="708"/><use id="n51_13" href="#RR" x="760"/><use id="n51_14" href="#RR" x="812"/><use id="n51_15" href="#RR" x="864"/><use id="n51_16" href="#KR" x="916"/></g>
<g id="row52" transform="translate(0,2713.7)"><use id="n52_0" href="#KL" x="84"/><use id="n52_1" href="#KL" x="136"/><use id="n52_2" href="#KL" x="188"/><use id="n52_3" href="#KL" x="240"/><use id="n52_4" href="#KL" x="292"/><use id="n52_5" href="#KL" x="344"/><use id="n52_6" href="#RL" x="396"/><use id="n52_7" href="#RL" x="448"/><use id="n52_8" href="#RL" x="500"/><use id="n52_9" href="#RL" x="552"/><use id="n52_10" href="#RL" x="604"/><use id="n52_11" href="#RL" x="656"/><use id="n52_12" href="#RL" x="708"/><use id="n52_13" href="#RL" x="760"/><use id="n52_14" href="#RL" x="812"/><use id="n52_15" href="#RL" x="864"/><use id="n52_16" href="#KL" x="916"/></g>
<g id="row53" transform="translate(0,2765.7)"><use id="n53_0" href="#KR" x="84"/><use id="n53_1" href="#KR" x="136"/><use id="n53_2" href="#KR" x="188"/><use id="n53_3" href="#KR" x="240"/><use id="n53_4" href="#KR" x="292"/><use id="n53_5" href="#KR" x="344"/><use id="n53_6" href="#KR" x="396"/><use id="n53_7" href="#RR" x="448"/><use id="n53_8" href="#RR" x="500"/><use id="n53_9" href="#RR" x="552"/><use id="n53_10" href="#RR" x="604"/><use id="n53_11" href="#RR" x="656"/><use id="n53_12" href="#RR" x="708"/><use id="n53_13" href="#RR" x="760"/><use id="n53_14" href="#RR" x="812"/><use id="n53_15" href="#RR" x="864"/><use id="n53_16" href="#KR" x="916"/></g>
<g id="row54" transform="translate(0,2817.7)"><use id="n54_0" href="#KL" x="84"/><use id="n54_1" href="#KL" x="136"/><use id="n54_2" href="#KL" x="188"/><use id="n54_3" href="#KL" x="240"/><use id="n54_4" href="#KL" x="292"/><use id="n54_5" href="#KL" x="344"/><use id="n54_6" href="#KL" x="396"/><use id="n54_7" href="#KL" x="448"/><use id="n54_8" href="#RL" x="500"/><use id="n54_9" href="#RL" x="552"/><use id="n54_10" href="#RL" x="604"/><use id="n54_11" href="#RL" x="656"/><use id="n54_12" href="#RL" x="708"/><use id="n54_13" href="#RL" x="760"/><use id="n54_14" href="#RL" x="812"/><use id="n54_15" href="#RL" x="864"/><use id="n54_16" href="#KL" x="916"/></g>
<g id="row55" transform="translate(0,2869.7)"><use id="n55_0" href="#KR" x="84"/><use id="n55_1" href="#KR" x="136"/><use id="n55_2" href="#KR" x="188"/><use id="n55_3" href="#KR" x="240"/><use id="n55_4" href="#KR" x="292"/><use id="n55_5" href="#KR" x="344"/><use id="n55_6" href="#KR" x="396"/><use id="n55_7" href="#KR" x="448"/><use id="n55_8" href="#KR" x="500"/><use id="n55_9" href="#RR" x="552"/><use id="n55_10" href="#RR" x="604"/><use id="n55_11" href="#RR" x="656"/><use id="n55_12" href="#RR" x="708"/><use id="n55_13" href="#RR" x="760"/><use id="n55_14" href="#RR" x="812"/><use id="n55_15" href="#RR" x="864"/><use id="n55_16" href="#KR" x="916"/></g>
<g id="row56" transform="translate(0,2921.7)"><use id="n56_0" href="#KL" x="84"/><use id="n56_1" href="#KL" x="136"/><use id="n56_2" href="#KL" x="188"/><use id="n56_3" href="#KL" x="240"/><use id="n56_4" href="#KL" x="292"/><use id="n56_5" href="#KL" x="344"/><use id="n56_6" href="#KL" x="396"/><use id="n56_7" href="#KL" x="448"/><use id="n56_8" href="#KL" x="500"/><use id="n56_9" href="#KL" x="552"/><use id="n56_10" href="#RL" x="604"/><use id="n56_11" href="#RL" x="656"/><use id="n56_12" href="#RL" x="708"/><use id="n56_13" href="#RL" x="760"/><use id="n56_14" href="#RL" x="812"/><use id="n56_15" href="#RL" x="864"/><use id="n56_16" href="#KL" x="916"/></g>
<g id="row57" transform="translate(0,2973.7)"><use id="n57_0" href="#KR" x="84"/><use id="n57_1" href="#KR" x="136"/><use id="n57_2" href="#KR" x="188"/><use id="n57_3" href="#KR" x="240"/><use id="n57_4" href="#KR" x="292"/><use id="n57_5" href="#KR" x="344"/><use id="n57_6" href="#KR" x="396"/><use id="n57_7" href="#KR" x="448"/><use id="n57_8" href="#KR" x="500"/><use id="n57_9" href="#KR" x="552"/><use id="n57_10" href="#KR" x="604"/><use id="n57_11" href="#RR" x="656"/><use id="n57_12" href="#RR" x="708"/><use id="n57_13" href="#RR" x="760"/><use id="n57_14" href="#RR" x="812"/><use id="n57_15" href="#RR" x="864"/><use id="n57_16" href="#KR" x="916"/></g>
<g id="row58" transform="translate(0,3025.7)"><use id="n58_0" href="#KL" x="84"/><use id="n58_1" href="#KL" x="136"/><use id="n58_2" href="#KL" x="188"/><use id="n58_3" href="#KL" x="240"/><use id="n58_4" href="#KL" x="292"/><use id="n58_5" href="#KL" x="344"/><use id="n58_6" href="#KL" x="396"/><use id="n58_7" href="#KL" x="448"/><use id="n58_8" href="#KL" x="500"/><use id="n58_9" href="#KL" x="552"/><use id="n58_10" href="#KL" x="604"/><use id="n58_11" href="#KL" x="656"/><use id="n58_12" href="#RL" x="708"/><use id="n58_13" href="#RL" x="760"/><use id="n58_14" href="#RL" x="812"/><use id="n58_15" href="#RL" x="864"/><use id="n58_16" href="#KL" x="916"/></g>
<g id="row59" transform="translate(0,3077.7)"><use id="n59_0" href="#KR" x="84"/><use id="n59_1" href="#KR" x="136"/><use id="n59_2" href="#KR" x="188"/><use id="n59_3" href="#KR" x="240"/><use id="n59_4" href="#KR" x="292"/><use id="n59_5" href="#KR" x="344"/><use id="n59_6" href="#KR" x="396"/><use id="n59_7" href="#KR" x="448"/><use id="n59_8" href="#KR" x="500"/><use id="n59_9" href="#KR" x="552"/><use id="n59_10" href="#KR" x="604"/><use id="n59_11" href="#KR" x="656"/><use id="n59_12" href="#KR" x="708"/><use id="n59_13" href="#RR" x="760"/><use id="n59_14" href="#RR" x="812"/><use id="n59_15" href="#RR" x="864"/><use id="n59_16" href="#KR" x="916"/></g>
<g id="row60" transform="translate(0,3129.7)"><use id="n60_0" href="#KL" x="84"/><use id="n60_1" href="#KL" x="136"/><use id="n60_2" href="#KL" x="188"/><use id="n60_3" href="#KL" x="240"/><use id="n60_4" href="#KL" x="292"/><use id="n60_5" href="#KL" x="344"/><use id="n60_6" href="#KL" x="396"/><use id="n60_7" href="#KL" x="448"/><use id="n60_8" href="#KL" x="500"/><use id="n60_9" href="#KL" x="552"/><use id="n60_10" href="#KL" x="604"/><use id="n60_11" href="#KL" x="656"/><use id="n60_12" href="#KL" x="708"/><use id="n60_13" href="#KL" x="760"/><use id="n60_14" href="#RL" x="812"/><use id="n60_15" href="#RL" x="864"/><use id="n60_16" href="#KL" x="916"/></g>
<g id="row61" transform="translate(0,3181.7)"><use id="n61_0" href="#KR" x="84"/><use id="n61_1" href="#KR" x="136"/><use id="n61_2" href="#KR" x="188"/><use id="n61_3" href="#KR" x="240"/><use id="n61_4" href="#KR" x="292"/><use id="n61_5" href="#KR" x="344"/><use id="n61_6" href="#KR" x="396"/><use id="n61_7" href="#KR" x="448"/><use id="n61_8" href="#KR" x="500"/><use id="n61_9" href="#KR" x="552"/><use id="n61_10" href="#KR" x="604"/><use id="n61_11" href="#KR" x="656"/><use id="n61_12" href="#KR" x="708"/><use id="n61_13" href="#KR" x="760"/><use id="n61_14" href="#KR" x="812"/><use id="n61_15" href="#KR" x="864"/><use id="n61_16" href="#KR" x="916"/></g>
</g>
<g id="labels">
<path class="gl" d="M933,61.7H973M26,113.7H67M26,165.7H67M933,165.7H973M26,217.7H67M933,217.7H973M26,269.7H67M933,269.7H973M26,321.7H67M933,321.7H973M26,373.7H67M933,373.7H973M26,425.7H67M933,425.7H973M26,477.7H67M933,477.7H973M26,529.7H67M933,529.7H973M26,581.7H67M933,581.7H973M26,633.7H67M933,633.7H973M26,685.7H67M933,685.7H973M26,737.7H67M933,737.7H973M26,789.7H67M933,789.7H973M26,841.7H67M933,841.7H973M26,893.7H67M933,893.7H973M26,945.7H67M933,945.7H973M26,997.7H67M933,997.7H973M26,1049.7H67M933,1049.7H973M26,1101.7H67M933,1101.7H973M26,1153.7H67M933,1153.7H973M26,1205.7H67M933,1205.7H973M26,1257.7H67M933,1257.7H973M26,1309.7H67M933,1309.7H973M26,1361.7H67M933,1361.7H973M26,1413.7H67M933,1413.7H973M26,1465.7H67M933,1465.7H973M26,1517.7H67M933,1517.7H973M26,1569.7H67M933,1569.7H973M26,1621.7H67M933,1621.7H973M26,1673.7H67M933,1673.7H973M26,1725.7H67M933,1725.7H973M26,1777.7H67M933,1777.7H973M26,1829.7H67M933,1829.7H973M26,1881.7H67M933,1881.7H973M26,1933.7H67M933,1933.7H973M26,1985.7H67M933,1985.7H973M26,2037.7H67M933,2037.7H973M26,2089.7H67M933,2089.7H973M26,2141.7H67M933,2141.7H973M26,2193.7H67M933,2193.7H973M26,2245.7H67M933,2245.7H973M26,2297.7H67M933,2297.7H973M26,2349.7H67M933,2349.7H973M26,2401.7H67M933,2401.7H973M26,2453.7H67M933,2453.7H973M26,2505.7H67M933,2505.7H973M26,2557.7H67M933,2557.7H973M26,2609.7H67M933,2609.7H973M26,2661.7H67M933,2661.7H973M26,2713.7H67M933,2713.7H973M26,2765.7H67M933,2765.7H973M26,2817.7H67M933,2817.7H973M26,2869.7H67M933,2869.7H973M26,2921.7H67M933,2921.7H973M26,2973.7H67M933,2973.7H973M26,3025.7H67M933,3025.7H973M26,3077.7H67M933,3077.7H973M933,3129.7H973M26,3181.7H67"/>
<g class="lb" text-anchor="end">
<text x="22" y="66.2">1</text><text x="22" y="118.2">2</text><text x="22" y="170.2">3</text><text x="22" y="222.2">4</text><text x="22" y="274.2">5</text><text x="22" y="326.2">6</text><text x="22" y="378.2">7</text><text x="22" y="430.2">8</text><text x="22" y="482.2">9</text><text x="22" y="534.2">10</text><text x="22" y="586.2">11</text><text x="22" y="638.2">12</text><text x="22" y="690.2">13</text><text x="22" y="742.2">14</text><text x="22" y="794.2">15</text><text x="22" y="846.2">16</text><text x="22" y="898.2">17</text><text x="22" y="950.2">18</text><text x="22" y="1002.2">19</text><text x="22" y="1054.2">20</text><text x="22" y="1106.2">21</text><text x="22" y="1158.2">22</text><text x="22" y="1210.2">23</text><text x="22" y="1262.2">24</text><text x="22" y="1314.2">25</text><text x="22" y="1366.2">26</text><text x="22" y="1418.2">27</text><text x="22" y="1470.2">28</text><text x="22" y="1522.2">29</text><text x="22" y="1574.2">30</text><text x="22" y="1626.2">31</text><text x="22" y="1678.2">32</text><text x="22" y="1730.2">33</text><text x="22" y="1782.2">34</text><text x="22" y="1834.2">35</text><text x="22" y="1886.2">36</text><text x="22" y="1938.2">37</text><text x="22" y="1990.2">38</text><text x="22" y="2042.2">39</text><text x="22" y="2094.2">40</text><text x="22" y="2146.2">41</text><text x="22" y="2198.2">42</text><text x="22" y="2250.2">43</text><text x="22" y="2302.2">44</text><text x="22" y="2354.2">45</text><text x="22" y="2406.2">46</text><text x="22" y="2458.2">47</text><text x="22" y="2510.2">48</text><text x="22" y="2562.2">49</text><text x="22" y="2614.2">50</text><text x="22" y="2666.2">51</text><text x="22" y="2718.2">52</text><text x="22" y="2770.2">53</text><text x="22" y="2822.2">54</text><text x="22" y="2874.2">55</text><text x="22" y="2926.2">56</text><text x="22" y="2978.2">57</text><text x="22" y="3030.2">58</text><text x="22" y="3082.2">59</text><text x="22" y="3134.2">60</text><text x="22" y="3186.2">61</text>
</g>
<g class="lb">
<text x="978" y="66.2">1</text><text x="978" y="118.2">2</text><text x="978" y="170.2">3</text><text x="978" y="222.2">4</text><text x="978" y="274.2">5</text><text x="978" y="326.2">6</text><text x="978" y="378.2">7</text><text x="978" y="430.2">8</text><text x="978" y="482.2">9</text><text x="978" y="534.2">10</text><text x="978" y="586.2">11</text><text x="978" y="638.2">12</text><text x="978" y="690.2">13</text><text x="978" y="742.2">14</text><text x="978" y="794.2">15</text><text x="978" y="846.2">16</text><text x="978" y="898.2">17</text><text x="978" y="950.2">18</text><text x="978" y="1002.2">19</text><text x="978" y="1054.2">20</text><text x="978" y="1106.2">21</text><text x="978" y="1158.2">22</text><text x="978" y="1210.2">23</text><text x="978" y="1262.2">24</text><text x="978" y="1314.2">25</text><text x="978" y="1366.2">26</text><text x="978" y="1418.2">27</text><text x="978" y="1470.2">28</text><text x="978" y="1522.2">29</text><text x="978" y="1574.2">30</text><text x="978" y="1626.2">31</text><text x="978" y="1678.2">32</text><text x="978" y="1730.2">33</text><text x="978" y="1782.2">34</text><text x="978" y="1834.2">35</text><text x="978" y="1886.2">36</text><text x="978" y="1938.2">37</text><text x="978" y="1990.2">38</text><text x="978" y="2042.2">39</text><text x="978" y="2094.2">40</text><text x="978" y="2146.2">41</text><text x="978" y="2198.2">42</text><text x="978" y="2250.2">43</text><text x="978" y="2302.2">44</text><text x="978" y="2354.2">45</text><text x="978" y="2406.2">46</text><text x="978" y="2458.2">47</text><text x="978" y="2510.2">48</text><text x="978" y="2562.2">49</text><text x="978" y="2614.2">50</text><text x="978" y="2666.2">51</text><text x="978" y="2718.2">52</text><text x="978" y="2770.2">53</text><text x="978" y="2822.2">54</text><text x="978" y="2874.2">55</text><text x="978" y="2926.2">56</text><text x="978" y="2978.2">57</text><text x="978" y="3030.2">58</text><text x="978" y="3082.2">59</text><text x="978" y="3134.2">60</text><text x="978" y="3186.2">61</text>
</g>
<text class="tl" x="35" y="65.6">A</text>
<text class="tl" x="966" y="117.6">B</text>
<text class="tl" x="35" y="3133.6">B</text>
<text class="tl" x="966" y="3185.6">A</text>
</g>
<text class="wm" x="500" y="1653">BRACELETBOOK.COM</text>
</svg>
